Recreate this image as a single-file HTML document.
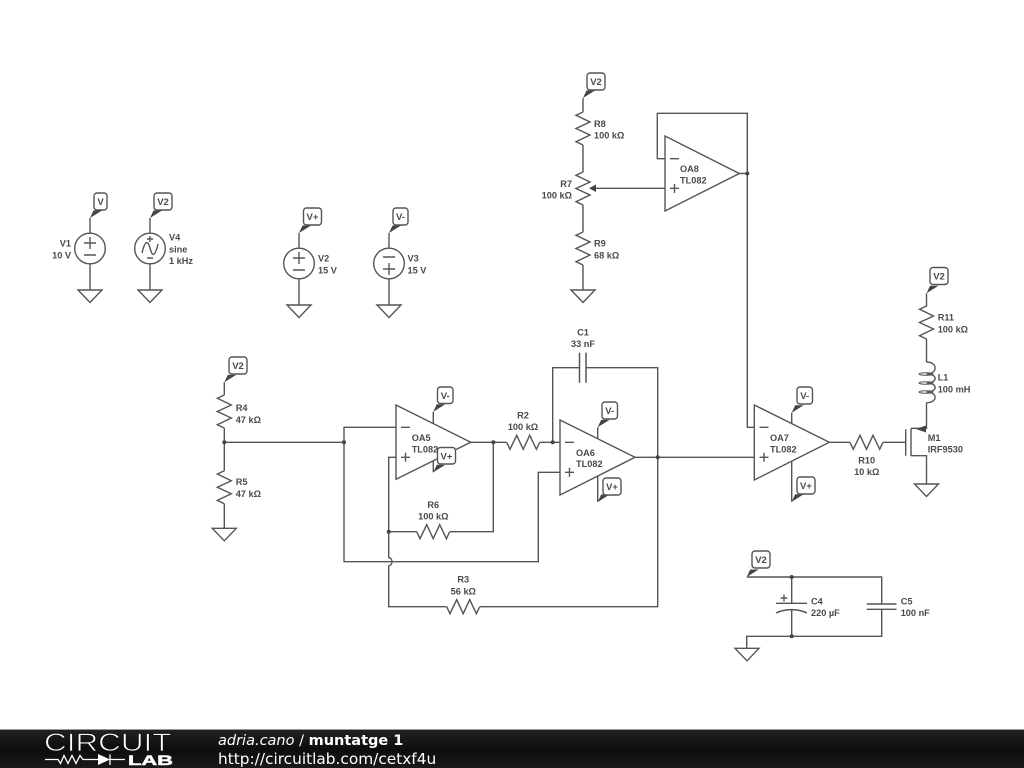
<!DOCTYPE html>
<html><head><meta charset="utf-8"><style>
html,body{margin:0;padding:0;background:#fff;width:1024px;height:768px;overflow:hidden}
svg{display:block}
.w{fill:none;stroke:#555;stroke-width:1.4}
.t{font-family:"Liberation Sans",sans-serif;font-size:9.2px;font-weight:bold;fill:#4a4a4a}
.b{font-family:"Liberation Sans",sans-serif;font-size:9.5px;font-weight:bold;fill:#4a4a4a;text-anchor:middle}
.m{text-anchor:middle}.e{text-anchor:end}
.f{font-family:"DejaVu Sans",sans-serif;fill:#fff}
</style></head><body>
<svg width="1024" height="768" viewBox="0 0 1024 768" xmlns="http://www.w3.org/2000/svg">
<defs>
<path id="rv" class="w" d="M0 0L-7 3.300L7 10L-7 16.500L7 23L-7 29.700L0 33"/>
<path id="rh" class="w" d="M0 0L3.300 7L10 -7L16.500 7L23 -7L29.700 7L33 0"/>
<path id="g" class="w" d="M-12 0H12L0 12.500Z"/>
<path id="fl" fill="#444" d="M0 0L3.500 -7.500L12 -7.500Z"/>
<circle id="n" r="2" fill="#444"/>
</defs>
<rect width="1024" height="768" fill="#fff"/>

<!-- V1 -->
<path class="w" d="M90 233V218M90 264V290"/><circle class="w" cx="90" cy="248.500" r="15.300"/>
<path class="w" d="M84 243H96M90 237V249M84 255H96"/><use href="#g" x="90" y="290"/><use href="#fl" x="90" y="218"/>
<rect class="w" x="94" y="193" width="13" height="17" rx="3" style="fill:#fff"/><text class="b" x="100.500" y="205">V</text>
<text class="t e" x="71" y="246.500">V1</text><text class="t e" x="71" y="258.500">10 V</text>
<!-- V4 -->
<path class="w" d="M150 233V218M150 264V290"/><circle class="w" cx="150" cy="248.500" r="15.300"/>
<path class="w" d="M142 253C145 240 148 240 150 248C152 257 155 257 158 244M147 239H153M150 236V242M147 258H153"/><use href="#g" x="150" y="290"/><use href="#fl" x="150" y="218"/>
<rect class="w" x="154" y="193" width="18" height="17" rx="3" style="fill:#fff"/><text class="b" x="163" y="205">V2</text>
<text class="t" x="169" y="240.500">V4</text><text class="t" x="169" y="252.500">sine</text><text class="t" x="169" y="264">1 kHz</text>
<!-- V2 -->
<path class="w" d="M299 248V233M299 279V305"/><circle class="w" cx="299" cy="263.500" r="15.300"/>
<path class="w" d="M293 258H305M299 252V264M293 270H305"/><use href="#g" x="299" y="305"/><use href="#fl" x="299" y="233"/>
<rect class="w" x="303.500" y="208" width="18" height="17" rx="3" style="fill:#fff"/><text class="b" x="312.500" y="220">V+</text>
<text class="t" x="318" y="261.500">V2</text><text class="t" x="318" y="273.500">15 V</text>
<!-- V3 -->
<path class="w" d="M389 248V233M389 279V305"/><circle class="w" cx="389" cy="263.500" r="15.300"/>
<path class="w" d="M383 257H395M383 269H395M389 263V275"/><use href="#g" x="389" y="305"/><use href="#fl" x="389" y="233"/>
<rect class="w" x="393" y="208" width="15" height="17" rx="3" style="fill:#fff"/><text class="b" x="400.500" y="220">V-</text>
<text class="t" x="407.500" y="261.500">V3</text><text class="t" x="407.500" y="273.500">15 V</text>

<!-- R8 R7 R9 -->
<path class="w" d="M583 98V112M583 145V172M583 205V232M583 265V290"/>
<use href="#rv" x="583" y="112"/><use href="#rv" x="583" y="172"/><use href="#rv" x="583" y="232"/><use href="#g" x="583" y="290"/><use href="#fl" x="583" y="98"/>
<rect class="w" x="587" y="73" width="18" height="17" rx="3" style="fill:#fff"/><text class="b" x="596" y="85">V2</text>
<text class="t" x="594" y="127">R8</text><text class="t" x="594" y="138.500">100 kΩ</text>
<text class="t e" x="572" y="187">R7</text><text class="t e" x="572" y="198.500">100 kΩ</text>
<text class="t" x="594" y="246.500">R9</text><text class="t" x="594" y="258.500">68 kΩ</text>
<path class="w" d="M665 188.300H592"/><path fill="#444" d="M589 188.300L596 184.500V192Z"/>
<!-- OA8 -->
<path class="w" d="M665 136V211L739.300 173.500ZM739.300 173.500H747.300M665 158.700H657.300V113.300H747.300V427.300H754.300"/>
<path class="w" d="M670 158.700H679M670 188.300H679M674.500 184V193"/><use href="#n" x="747.300" y="173.500"/>
<text class="t" x="680" y="172">OA8</text><text class="t" x="680" y="183.500">TL082</text>

<!-- R4 R5 -->
<path class="w" d="M224.300 382.300V395M224.300 428V470.700M224.300 503.700V528.300M224.300 442.300H344"/>
<use href="#rv" x="224.300" y="395"/><use href="#rv" x="224.300" y="470.700"/><use href="#g" x="224.300" y="528.300"/><use href="#fl" x="224.300" y="382.300"/><use href="#n" x="224.300" y="442.300"/>
<rect class="w" x="229" y="357" width="18" height="17" rx="3" style="fill:#fff"/><text class="b" x="238" y="369">V2</text>
<text class="t" x="235.700" y="411">R4</text><text class="t" x="235.700" y="423">47 kΩ</text>
<text class="t" x="235.700" y="485">R5</text><text class="t" x="235.700" y="497">47 kΩ</text>

<!-- wires OA5/OA6 -->
<path class="w" d="M396 427.300H344V561.700H538.300V472.300H560M396 457.300H388.700V557.500C393 558 393 565 388.700 566V606.700H446.700M480 606.700H657.700V367.700H586M579.500 367.700H552.700V442.300M470.700 442.300H506.700M540 442.300H560M635 457.300H754.300M388.700 531.700H416.700M450 531.700H493.300V442.300"/>
<use href="#rh" x="506.700" y="442.300"/><use href="#rh" x="416.700" y="531.700"/><use href="#rh" x="446.700" y="606.700"/>
<path class="w" d="M579.500 352.700V382.700M586 352.700V382.700" style="stroke-width:1.5"/>
<use href="#n" x="344" y="442.300"/><use href="#n" x="493.300" y="442.300"/><use href="#n" x="552.700" y="442.300"/><use href="#n" x="657.700" y="457.300"/><use href="#n" x="388.700" y="531.700"/>
<text class="t m" x="583" y="335.500">C1</text><text class="t m" x="583" y="347">33 nF</text>
<text class="t m" x="523" y="418.500">R2</text><text class="t m" x="523" y="430">100 kΩ</text>
<text class="t m" x="433.300" y="508">R6</text><text class="t m" x="433.300" y="519.500">100 kΩ</text>
<text class="t m" x="463.300" y="582.500">R3</text><text class="t m" x="463.300" y="594.500">56 kΩ</text>
<!-- OA5 -->
<path class="w" d="M396 405V479.300L470.700 442.300Z"/>
<path class="w" d="M401 427.300H410M401 457.300H410M405.500 452.800V461.800"/>
<text class="t" x="411.700" y="441">OA5</text><text class="t" x="411.700" y="452.500">TL082</text>
<path class="w" d="M433.300 423.500V411.700M433.300 461V472.300"/>
<use href="#fl" x="433.300" y="411.700"/><use href="#fl" x="433.300" y="472.300"/>
<rect class="w" x="437.500" y="387" width="15.500" height="16.500" rx="3" style="fill:#fff"/><text class="b" x="445.200" y="399">V-</text>
<rect class="w" x="437.500" y="447.500" width="18" height="16.500" rx="3" style="fill:#fff"/><text class="b" x="446.500" y="459.500">V+</text>
<!-- OA6 -->
<path class="w" d="M560 420V495L635 457.300Z"/>
<path class="w" d="M565 442.300H574M565 472.300H574M569.500 467.800V476.800"/>
<text class="t" x="576" y="456">OA6</text><text class="t" x="576" y="467">TL082</text>
<path class="w" d="M597.700 439V427.300M597.700 476V502"/>
<use href="#fl" x="597.700" y="427.300"/><use href="#fl" x="597.700" y="502"/>
<rect class="w" x="602" y="402" width="15.500" height="17" rx="3" style="fill:#fff"/><text class="b" x="609.700" y="414">V-</text>
<rect class="w" x="603" y="478" width="18" height="17" rx="3" style="fill:#fff"/><text class="b" x="612" y="490">V+</text>
<!-- OA7 -->
<path class="w" d="M754.300 405V480L829.300 442.300Z"/>
<path class="w" d="M759.500 427.300H768.500M759.500 457.300H768.500M764 452.800V461.800"/>
<text class="t" x="770" y="441">OA7</text><text class="t" x="770" y="452.500">TL082</text>
<path class="w" d="M791.700 423.500V412.700M791.700 461V501.700"/>
<use href="#fl" x="791.700" y="412.700"/><use href="#fl" x="791.700" y="501.700"/>
<rect class="w" x="797" y="387" width="15.500" height="17" rx="3" style="fill:#fff"/><text class="b" x="804.700" y="399">V-</text>
<rect class="w" x="797" y="477" width="18" height="17" rx="3" style="fill:#fff"/><text class="b" x="806" y="489">V+</text>
<path class="w" d="M829.300 442.300H850M883 442.300H905.700"/><use href="#rh" x="850" y="442.300"/>
<text class="t m" x="866.700" y="463.500">R10</text><text class="t m" x="866.700" y="475">10 kΩ</text>
<!-- M1 -->
<path class="w" d="M905.700 429.300V455.700M911 428.300V456M911 428.300H926.500V402.700M911 455.700H926.500V484M926.500 362V339M926.500 306.700V293.300"/>
<path fill="#444" d="M916 429L926 425.500V432.500Z"/>
<use href="#rv" x="926.500" y="306"/><use href="#g" x="926.500" y="484"/><use href="#fl" x="926.500" y="293.300"/>
<path class="w" d="M926.500 362C938 362 938 374 926.500 374C938 374 938 383 926.500 383C938 383 938 392 926.500 392C938 392 938 402.700 926.500 402.700"/>
<g><ellipse class="w" cx="926" cy="374" rx="7" ry="1.300" style="stroke-width:1"/><ellipse class="w" cx="926" cy="383" rx="7" ry="1.300" style="stroke-width:1"/><ellipse class="w" cx="926" cy="392" rx="7" ry="1.300" style="stroke-width:1"/></g>
<rect class="w" x="930" y="267.500" width="18" height="17" rx="3" style="fill:#fff"/><text class="b" x="939" y="279.500">V2</text>
<text class="t" x="937.700" y="320.500">R11</text><text class="t" x="937.700" y="332.500">100 kΩ</text>
<text class="t" x="937.700" y="380.500">L1</text><text class="t" x="937.700" y="392.500">100 mH</text>
<text class="t" x="927.700" y="441">M1</text><text class="t" x="927.700" y="452.500">IRF9530</text>
<!-- C4 C5 -->
<path class="w" d="M746.700 577H881.700V604M881.700 609.300V636.300H746.700V648.300M791.700 577V603.300M791.700 610V636.300M776 603.300H807M776 613C785 608.500 798 608.500 807 613M866.700 604H896.500M866.700 609.300H896.500M780.500 598H787.500M784 594.500V601.500"/>
<use href="#n" x="791.700" y="577"/><use href="#n" x="791.700" y="636.300"/><use href="#g" x="747" y="648.300"/><use href="#fl" x="746.700" y="577"/>
<rect class="w" x="752" y="551" width="18" height="17" rx="3" style="fill:#fff"/><text class="b" x="761" y="563">V2</text>
<text class="t" x="811" y="604.500">C4</text><text class="t" x="811" y="616">220 µF</text>
<text class="t" x="900.700" y="604.500">C5</text><text class="t" x="900.700" y="616">100 nF</text>

<!-- footer -->
<defs><linearGradient id="bar" x1="0" y1="0" x2="0" y2="1"><stop offset="0" stop-color="#222"/><stop offset=".5" stop-color="#0d0d0d"/><stop offset="1" stop-color="#191919"/></linearGradient></defs>
<rect y="729" width="1024" height="1" fill="#999"/>
<rect y="730" width="1024" height="38" fill="url(#bar)"/>
<text x="44" y="751" font-family="Liberation Sans,sans-serif" font-size="25" textLength="127.500" lengthAdjust="spacingAndGlyphs" fill="#fff" stroke="#111" stroke-width=".8">CIRCUIT</text>
<text x="128" y="765" font-family="Liberation Sans,sans-serif" font-size="14" font-weight="bold" textLength="45" lengthAdjust="spacingAndGlyphs" fill="#fff" stroke="#fff" stroke-width=".5">LAB</text>
<path d="M45 759.500H58L60.500 763.500L64 755.500L68 763.500L72 755.500L76 763.500L80 755.500L83 759.500H98M110 754.500V765M110 759.500H125" fill="none" stroke="#fff" stroke-width="1.300"/>
<path d="M98 754V765L110 759.500Z" fill="#fff"/>
<text class="f" x="218" y="745" font-size="14.500"><tspan font-style="italic">adria.cano</tspan> / <tspan font-weight="bold">muntatge 1</tspan></text>
<text class="f" x="218" y="764" font-size="15.350">http://circuitlab.com/cetxf4u</text>
</svg>
</body></html>
